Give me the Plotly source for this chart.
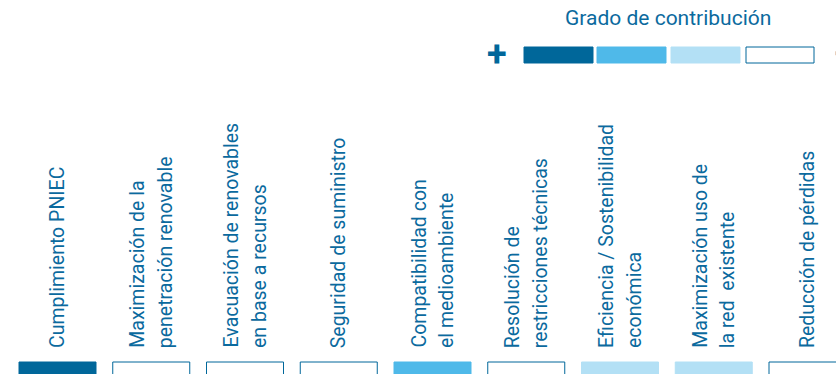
import plotly.graph_objects as go

# ---- data ----
category_lines = [
    ["Cumplimiento PNIEC"],
    ["Maximización de la", "penetración renovable"],
    ["Evacuación de renovables", "en base a recursos"],
    ["Seguridad de suministro"],
    ["Compatibilidad con", "el medioambiente"],
    ["Resolución de", "restricciones técnicas"],
    ["Eficiencia / Sostenibilidad", "económica"],
    ["Maximización uso de", "la red  existente"],
    ["Reducción de pérdidas"],
]
contribution_level = [3, 0, 0, 0, 2, 0, 1, 1, 0]   # 3 = highest, 0 = none
legend_levels = [3, 2, 1, 0]
legend_title = "Grado de contribución"
legend_plus = "+"
legend_minus = "−"

# ---- style ----
TEXT = "#0b6a9e"
DARK = "#00679a"
LEVEL_COLORS = {3: "#00679a", 2: "#4fb9e9", 1: "#b3e0f5", 0: "#ffffff"}
FONT = "Roboto"

W, H = 836, 374
step = 93.75
x0 = -57.5 / step
x1 = x0 + W / step

xs = list(range(len(category_lines)))
fill = [LEVEL_COLORS[v] for v in contribution_level]
outline = [DARK if v == 0 else LEVEL_COLORS[v] for v in contribution_level]

fig = go.Figure()
fig.add_trace(go.Bar(
    x=xs, y=[22] * len(xs), base=[-10] * len(xs),
    width=77 / step,
    marker=dict(color=fill, line=dict(color=outline, width=1)),
    hoverinfo="skip",
))

annotations = []
for i, lines in enumerate(category_lines):
    n = len(lines)
    for j, line in enumerate(lines):
        annotations.append(dict(
            x=i, y=H - 350, xref="x", yref="y",
            text=line, textangle=-90, showarrow=False,
            xanchor="center", yanchor="bottom",
            xshift=(j - (n - 1) / 2) * 28,
            font=dict(family=FONT, size=19.5, color=TEXT),
        ))

# legend (top right), x given in pixels and converted to paper fraction
annotations.append(dict(x=668, y=H - 18, xref="paper", yref="y", text=legend_title,
                        showarrow=False, xanchor="center", yanchor="middle",
                        font=dict(family=FONT, size=21, color=TEXT)))
annotations.append(dict(x=497, y=H - 54, xref="paper", yref="y", text="<b>" + legend_plus + "</b>",
                        showarrow=False, xanchor="center", yanchor="middle",
                        font=dict(family=FONT, size=36, color=DARK)))
annotations.append(dict(x=843, y=H - 54, xref="paper", yref="y", text="<b>" + legend_minus + "</b>",
                        showarrow=False, xanchor="center", yanchor="middle",
                        font=dict(family=FONT, size=36, color=DARK)))
for a in annotations:
    if a["xref"] == "paper":
        a["x"] = a["x"] / W

shapes = []
legend_x = [(524, 593), (597, 666), (671, 740), (746, 814)]
for (lx0, lx1), lv in zip(legend_x, legend_levels):
    shapes.append(dict(type="rect", xref="paper", yref="y",
                       x0=lx0 / W, x1=lx1 / W, y0=H - 63, y1=H - 47,
                       fillcolor=LEVEL_COLORS[lv],
                       line=dict(color=DARK if lv == 0 else LEVEL_COLORS[lv], width=1)))

fig.update_layout(
    width=W, height=H,
    margin=dict(l=0, r=0, t=0, b=0),
    paper_bgcolor="white", plot_bgcolor="white",
    showlegend=False,
    xaxis=dict(range=[x0, x1], visible=False, fixedrange=True),
    yaxis=dict(range=[0, H], visible=False, fixedrange=True),
    annotations=annotations,
    shapes=shapes,
)

fig.write_html("out.html", config={"displayModeBar": False},
               post_script="document.body.style.margin='0';document.body.style.overflow='hidden';")
